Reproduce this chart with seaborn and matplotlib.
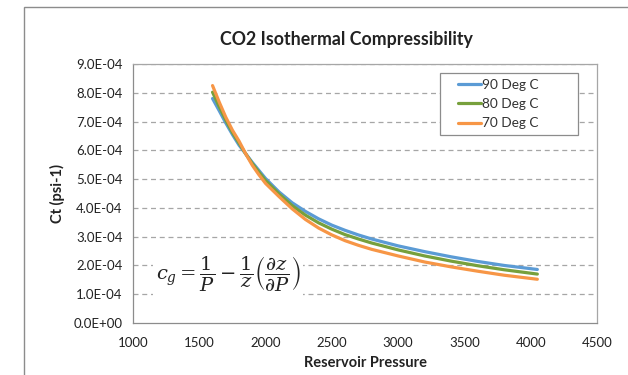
import matplotlib
matplotlib.use("Agg")
import matplotlib.pyplot as plt
import matplotlib.ticker as mticker
from matplotlib.patches import Rectangle
import seaborn as sns
import pandas as pd

pressure = [1600, 1650, 1700, 1750, 1800, 1850, 1900, 1950, 2000, 2100, 2200, 2300, 2400,
            2500, 2600, 2700, 2800, 3000, 3200, 3400, 3600, 3800, 4050]
ct_90 = [7.80, 7.38, 6.95, 6.55, 6.18, 5.88, 5.58, 5.30, 5.02, 4.56, 4.18, 3.88, 3.62,
         3.40, 3.22, 3.06, 2.92, 2.68, 2.48, 2.30, 2.14, 2.00, 1.86]
ct_80 = [8.02, 7.52, 7.05, 6.62, 6.25, 5.88, 5.54, 5.24, 4.95, 4.49, 4.08, 3.75, 3.48,
         3.26, 3.07, 2.92, 2.78, 2.54, 2.33, 2.15, 1.99, 1.85, 1.70]
ct_70 = [8.25, 7.68, 7.15, 6.70, 6.32, 5.88, 5.48, 5.15, 4.85, 4.40, 3.97, 3.60, 3.30,
         3.06, 2.86, 2.70, 2.56, 2.33, 2.12, 1.95, 1.80, 1.66, 1.52]
series_names = ["90 Deg C", "80 Deg C", "70 Deg C"]
colors = ["#5B9BD5", "#77A03C", "#F79646"]
y_ticks = [0.0, 1e-4, 2e-4, 3e-4, 4e-4, 5e-4, 6e-4, 7e-4, 8e-4, 9e-4]
x_ticks = [1000, 1500, 2000, 2500, 3000, 3500, 4000, 4500]

rows = []
for name, vals in zip(series_names, [ct_90, ct_80, ct_70]):
    for p, v in zip(pressure, vals):
        rows.append({"Pressure": p, "Ct": v * 1e-4, "Series": name})
df = pd.DataFrame(rows)

sns.set_theme(style="white")
plt.rcParams["font.family"] = ["Lato", "DejaVu Sans"]
plt.rcParams["mathtext.fontset"] = "dejavuserif"

fig = plt.figure(figsize=(6.28, 3.75), dpi=100)
ax = fig.add_axes([133/628, 1-323/375, (597-133)/628, (323-64)/375])

# outer chart border
fig.patches.append(Rectangle((24/628, -0.01), 0.99, 1-7/375+0.01, transform=fig.transFigure,
                             fill=False, edgecolor="#8c8c8c", linewidth=1.0))

sns.lineplot(data=df, x="Pressure", y="Ct", hue="Series", hue_order=series_names,
             palette=colors, linewidth=2.3, ax=ax, legend=False)

ax.set_xlim(1000, 4500)
ax.set_ylim(0, 9e-4)
ax.set_xticks(x_ticks)
ax.set_yticks(y_ticks)
ax.yaxis.set_major_formatter(mticker.FuncFormatter(
    lambda v, pos: "0.0E+00" if v == 0 else "{:.1E}".format(v)))
for yv in y_ticks[1:]:
    ax.axhline(yv, color="#a6a6a6", linestyle=(0, (4, 3)), linewidth=0.9, zorder=0)

for s in ["top", "right"]:
    ax.spines[s].set_color("#a6a6a6")
    ax.spines[s].set_linewidth(0.9)
for s in ["left", "bottom"]:
    ax.spines[s].set_color("#8c8c8c")
    ax.spines[s].set_linewidth(0.9)
ax.tick_params(axis="both", direction="out", length=4, width=0.9, color="#8c8c8c",
               labelsize=9.5, labelcolor="#222222", pad=4)
ax.tick_params(axis="y", direction="inout", length=7)
ax.tick_params(axis="x", pad=6)

ax.set_xlabel("Reservoir Pressure", fontsize=10.5, fontweight="bold", color="#222222", labelpad=5)
ax.set_ylabel("Ct (psi-1)", fontsize=10.5, fontweight="bold", color="#222222", labelpad=6)
fig.text(346/628, 1-40/375, "CO2 Isothermal Compressibility", ha="center", va="center",
         fontsize=12.8, fontweight="bold", color="#222222")

# legend box
fig.patches.append(Rectangle((440/628, 1-135/375), 138/628, 62/375, transform=fig.transFigure,
                             facecolor="white", edgecolor="#8c8c8c", linewidth=0.9, zorder=3))
handles = [plt.Line2D([], [], color=c, linewidth=2.3) for c in colors]
leg = fig.legend(handles, series_names, loc="center left",
                 bbox_to_anchor=(458/628, 1-104/375), frameon=False,
                 fontsize=9.8, handlelength=1.7, handletextpad=0.05, labelspacing=0.55,
                 borderpad=0, borderaxespad=0)
leg.set_zorder(4)
for t in leg.get_texts():
    t.set_color("#333333")

ax.text(1716, 1.72e-4,
        r"$c_g = \dfrac{1}{P} - \dfrac{1}{z}\left(\dfrac{\partial z}{\partial P}\right)$",
        ha="center", va="center", fontsize=14, color="#222222",
        bbox=dict(facecolor="white", edgecolor="none", pad=2), zorder=5)

fig.savefig("out.png", dpi=100, facecolor="white")
